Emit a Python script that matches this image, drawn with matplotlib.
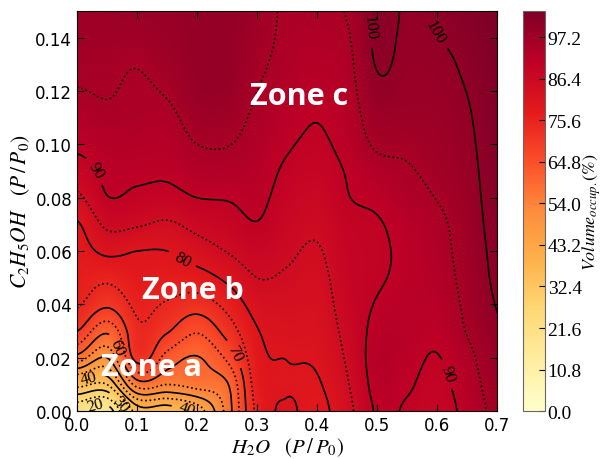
import numpy as np
import matplotlib
matplotlib.use("Agg")
import matplotlib.pyplot as plt

plt.rcParams['mathtext.fontset'] = 'stix'

# grid: H2O (x) columns, C2H5OH (y) rows
h2o = [0.0, 0.05, 0.1, 0.15, 0.2, 0.25, 0.3, 0.35, 0.4, 0.45, 0.5, 0.55, 0.6, 0.65, 0.7]
etoh = [0.0, 0.01, 0.02, 0.03, 0.04, 0.05, 0.06, 0.07, 0.08, 0.09, 0.1,
        0.11, 0.12, 0.13, 0.14, 0.15]

# volume occupied (%) per H2O column, from bottom (etoh=0) to top (etoh=0.15)
vol_by_h2o = [
    [21, 37, 58, 70, 75.5, 77, 78, 79.5, 84, 87.8, 91, 93, 94.8, 96, 97, 97.5],
    [17, 35, 50, 61, 71, 76, 81, 86, 89.8, 91, 92.5, 94.2, 95.3, 96, 97, 97.5],
    [37, 57, 72, 74, 76, 78, 80, 85.5, 89, 91, 92.5, 93.8, 94.3, 95.2, 96.8, 98],
    [37, 55, 63, 70.5, 74.5, 77.5, 80, 84.3, 88.5, 90.8, 92.3, 93.8, 95.5, 97, 98, 98.5],
    [42, 57, 59.7, 65.5, 72.5, 78, 82.5, 86.5, 90, 92.7, 95, 97, 98.5, 99, 99, 99],
    [57, 59.5, 66, 72, 76.5, 81, 85.2, 88, 90.3, 93, 95.2, 97, 98.5, 99, 99, 99],
    [76.3, 77.5, 78.5, 79.7, 82, 85, 87.5, 89.8, 91, 92, 93, 94, 95, 96, 96.8, 97.3],
    [80.5, 79.6, 80.1, 81.3, 82.8, 84.4, 85.8, 87, 88.2, 89.3, 90.5, 91.8, 92.8, 93.5, 94, 94.2],
    [78.5, 79.5, 80.7, 81.5, 82.5, 83.5, 84.6, 85.8, 87, 88.2, 89.3, 90.2, 91.5, 92.5, 93.5, 94.5],
    [83.5, 84.6, 85.6, 86.5, 87.3, 87.8, 88.3, 88.8, 89.8, 90.3, 91.5, 92.5, 93.2, 93.8, 94.5, 95.3],
    [90.5, 91.5, 92, 91.3, 90.3, 89.5, 89.3, 89.6, 91, 93, 95.8, 97.5, 99, 100.3, 101, 101.5],
    [89.5, 90.5, 91.3, 91.6, 91.4, 91, 91, 91.8, 93.3, 94.5, 96, 97.5, 98.3, 98.8, 99.2, 99.5],
    [88, 88.8, 89.8, 91, 92, 92.8, 93.3, 93.8, 95.2, 96.3, 97.2, 97.8, 98.5, 99, 99.9, 100.5],
    [91.5, 92.5, 93.6, 95.3, 96, 96.6, 97, 97.5, 98, 98.5, 99, 99.5, 100.1, 100.8, 101.5, 102.2],
    [96.5, 97.5, 98.5, 99.5, 100.2, 100.8, 101.2, 101.6, 102, 102.3, 102.6, 102.9, 103.2, 103.5, 103.8, 104],
]

cbar_ticks = [0.0, 10.8, 21.6, 32.4, 43.2, 54.0, 64.8, 75.6, 86.4, 97.2]
solid_levels = [10, 20, 30, 40, 50, 60, 70, 80, 90, 100]
dotted_levels = [15, 25, 35, 45, 55, 65, 75, 85, 95]
zones = ["Zone a", "Zone b", "Zone c"]
zone_pos = [(0.124, 0.0165), (0.193, 0.0455), (0.37, 0.118)]
# where the contour labels sit in the reference
label_spots = [(0.03, 0.002), (0.068, 0.002), (0.018, 0.013), (0.185, 0.002),
               (0.068, 0.024), (0.268, 0.022), (0.175, 0.057), (0.03, 0.09),
               (0.618, 0.014), (0.488, 0.144), (0.608, 0.144)]


def smooth_matrix(n, m):
    # catmull-rom weights to draw the coarse grid smoothly
    t = np.linspace(0, n - 1, m)
    W = np.zeros((m, n))
    for k, tk in enumerate(t):
        i = min(int(tk), n - 2)
        f = tk - i
        ws = [(-f**3 + 2*f**2 - f) / 2, (3*f**3 - 5*f**2 + 2) / 2,
              (-3*f**3 + 4*f**2 + f) / 2, (f**3 - f**2) / 2]
        for off, w in zip((-1, 0, 1, 2), ws):
            W[k, min(max(i + off, 0), n - 1)] += w
    return W


Z = np.array(vol_by_h2o).T
nx, ny = 211, 241
Zf = smooth_matrix(len(etoh), ny) @ Z @ smooth_matrix(len(h2o), nx).T
xf = np.linspace(h2o[0], h2o[-1], nx)
yf = np.linspace(etoh[0], etoh[-1], ny)
X, Y = np.meshgrid(xf, yf)

fig = plt.figure(figsize=(6.02, 4.60), dpi=100)
ax = fig.add_axes([0.128, 0.104, 0.698, 0.870])
cax = fig.add_axes([0.869, 0.104, 0.036, 0.870])

im = ax.imshow(Zf, origin='lower', extent=[h2o[0], h2o[-1], etoh[0], etoh[-1]],
               aspect='auto', cmap='YlOrRd', vmin=0, vmax=104, interpolation='bilinear')
cs = ax.contour(X, Y, Zf, levels=solid_levels, colors='k', linewidths=1.2,
                linestyles='solid')
ax.contour(X, Y, Zf, levels=dotted_levels, colors='k', linewidths=1.2,
           linestyles='dotted')
lbls = ax.clabel(cs, fmt='%d', fontsize=12, inline=True, manual=label_spots)
for t in lbls:
    t.set_fontfamily('Liberation Serif')

for name, (zx, zy) in zip(zones, zone_pos):
    ax.text(zx, zy, name, color='white', fontsize=22, fontweight='bold',
            family='Open Sans', ha='center', va='center')

ax.set_xlim(0, 0.7)
ax.set_ylim(0, 0.15)
ax.set_xticks([0.0, 0.1, 0.2, 0.3, 0.4, 0.5, 0.6, 0.7])
ax.set_yticks([0.0, 0.02, 0.04, 0.06, 0.08, 0.10, 0.12, 0.14])
ax.xaxis.set_major_formatter(matplotlib.ticker.FormatStrFormatter('%.1f'))
ax.yaxis.set_major_formatter(matplotlib.ticker.FormatStrFormatter('%.2f'))
ax.tick_params(direction='in', top=True, right=True, labelsize=12, length=5)
ax.set_xlabel(r'$H_2O\ \ \ (P\,/\,P_0)$', fontsize=15, labelpad=1)
ax.set_ylabel(r'$C_2H_5OH\ \ \ (P\,/\,P_0)$', fontsize=15.5, labelpad=2)

cb = fig.colorbar(im, cax=cax, ticks=cbar_ticks)
cb.ax.set_yticklabels(['%.1f' % v for v in cbar_ticks], family='Liberation Serif',
                      fontsize=14)
cb.ax.tick_params(direction='in', length=4, pad=2)
cb.outline.set_edgecolor('#666666')
cb.set_label(r'$Volume_{occup.}(\%)$', fontsize=13, labelpad=-1)

fig.savefig('out.png', dpi=100)
